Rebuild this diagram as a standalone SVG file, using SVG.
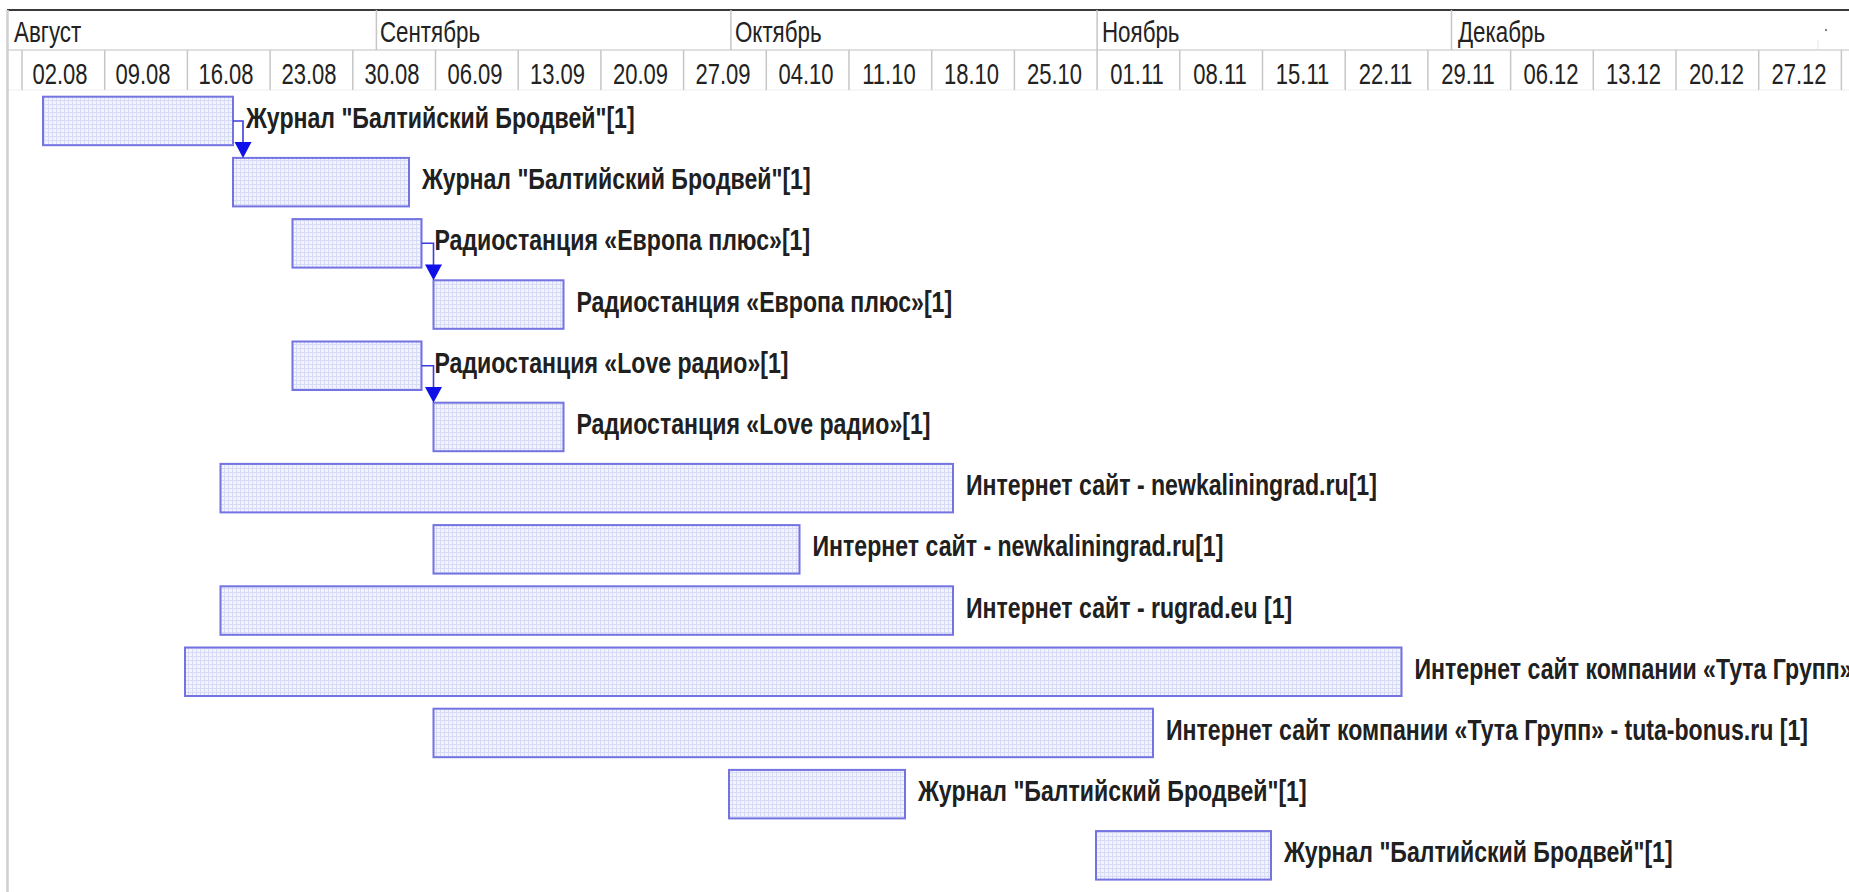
<svg xmlns="http://www.w3.org/2000/svg" width="1849" height="892" viewBox="0 0 1849 892">
<style>
.hdr{font-family:"Liberation Sans",Arial,sans-serif;font-size:29px;fill:#222}
.dt{font-family:"Liberation Sans",Arial,sans-serif;font-size:29px;fill:#222;text-anchor:middle}
.lbl{font-family:"Liberation Sans",Arial,sans-serif;font-size:30px;font-weight:bold;fill:#202020}
.bar{fill:url(#grid);stroke:#7373e2;stroke-width:2}
.sep{stroke:#c6c6c6;stroke-width:1.5}
.con{fill:none;stroke:#3c3ce0;stroke-width:1.6}
.ah{fill:#1010e8}
</style>
<defs>
<pattern id="grid" width="4" height="4" patternUnits="userSpaceOnUse">
<rect width="4" height="4" fill="#f3f3fd"/>
<path d="M0 0.5H4M0.5 0V4" stroke="#d8dbf6" stroke-width="1"/>
</pattern>
</defs>
<rect width="1849" height="892" fill="#ffffff"/>
<g id="timescale">
<line x1="7" y1="10" x2="1849" y2="10" stroke="#3a3a3a" stroke-width="2"/>
<line x1="7" y1="50" x2="1849" y2="50" stroke="#d4d4d4" stroke-width="1.5"/>
<line x1="7" y1="90" x2="1849" y2="90" stroke="#eeeeee" stroke-width="1"/>
<line x1="7.5" y1="10" x2="7.5" y2="892" stroke="#cfcfcf" stroke-width="2.5"/>
<g class="sep">
<line x1="376.4" y1="10" x2="376.4" y2="50"/>
<line x1="730.9" y1="10" x2="730.9" y2="50"/>
<line x1="1097.1" y1="10" x2="1097.1" y2="50"/>
<line x1="1451.5" y1="10" x2="1451.5" y2="50"/>
<line x1="22" y1="50" x2="22" y2="90"/>
<line x1="104.7" y1="50" x2="104.7" y2="90"/>
<line x1="187.4" y1="50" x2="187.4" y2="90"/>
<line x1="270.1" y1="50" x2="270.1" y2="90"/>
<line x1="352.8" y1="50" x2="352.8" y2="90"/>
<line x1="435.5" y1="50" x2="435.5" y2="90"/>
<line x1="518.2" y1="50" x2="518.2" y2="90"/>
<line x1="600.9" y1="50" x2="600.9" y2="90"/>
<line x1="683.6" y1="50" x2="683.6" y2="90"/>
<line x1="766.3" y1="50" x2="766.3" y2="90"/>
<line x1="849" y1="50" x2="849" y2="90"/>
<line x1="931.7" y1="50" x2="931.7" y2="90"/>
<line x1="1014.4" y1="50" x2="1014.4" y2="90"/>
<line x1="1097.1" y1="50" x2="1097.1" y2="90"/>
<line x1="1179.8" y1="50" x2="1179.8" y2="90"/>
<line x1="1262.5" y1="50" x2="1262.5" y2="90"/>
<line x1="1345.2" y1="50" x2="1345.2" y2="90"/>
<line x1="1427.9" y1="50" x2="1427.9" y2="90"/>
<line x1="1510.6" y1="50" x2="1510.6" y2="90"/>
<line x1="1593.3" y1="50" x2="1593.3" y2="90"/>
<line x1="1676" y1="50" x2="1676" y2="90"/>
<line x1="1758.7" y1="50" x2="1758.7" y2="90"/>
<line x1="1841.4" y1="50" x2="1841.4" y2="90"/>
</g>
<line x1="1818" y1="40" x2="1818" y2="50" stroke="#e4e4e4" stroke-width="1"/>
<circle cx="1826" cy="30" r="1.2" fill="#888"/>
<text class="hdr" transform="translate(14,42) scale(0.77,1)">Август</text>
<text class="hdr" transform="translate(380,42) scale(0.77,1)">Сентябрь</text>
<text class="hdr" transform="translate(735,42) scale(0.77,1)">Октябрь</text>
<text class="hdr" transform="translate(1102,42) scale(0.77,1)">Ноябрь</text>
<text class="hdr" transform="translate(1458,42) scale(0.77,1)">Декабрь</text>
<text class="dt" transform="translate(60,84) scale(0.76,1)">02.08</text>
<text class="dt" transform="translate(143,84) scale(0.76,1)">09.08</text>
<text class="dt" transform="translate(226,84) scale(0.76,1)">16.08</text>
<text class="dt" transform="translate(309,84) scale(0.76,1)">23.08</text>
<text class="dt" transform="translate(392,84) scale(0.76,1)">30.08</text>
<text class="dt" transform="translate(475,84) scale(0.76,1)">06.09</text>
<text class="dt" transform="translate(557.5,84) scale(0.76,1)">13.09</text>
<text class="dt" transform="translate(640.5,84) scale(0.76,1)">20.09</text>
<text class="dt" transform="translate(723,84) scale(0.76,1)">27.09</text>
<text class="dt" transform="translate(806,84) scale(0.76,1)">04.10</text>
<text class="dt" transform="translate(889,84) scale(0.76,1)">11.10</text>
<text class="dt" transform="translate(971.5,84) scale(0.76,1)">18.10</text>
<text class="dt" transform="translate(1054.5,84) scale(0.76,1)">25.10</text>
<text class="dt" transform="translate(1137,84) scale(0.76,1)">01.11</text>
<text class="dt" transform="translate(1220,84) scale(0.76,1)">08.11</text>
<text class="dt" transform="translate(1302.5,84) scale(0.76,1)">15.11</text>
<text class="dt" transform="translate(1385.5,84) scale(0.76,1)">22.11</text>
<text class="dt" transform="translate(1468,84) scale(0.76,1)">29.11</text>
<text class="dt" transform="translate(1551,84) scale(0.76,1)">06.12</text>
<text class="dt" transform="translate(1633.5,84) scale(0.76,1)">13.12</text>
<text class="dt" transform="translate(1716.5,84) scale(0.76,1)">20.12</text>
<text class="dt" transform="translate(1799,84) scale(0.76,1)">27.12</text>
</g>
<g id="task1"><rect class="bar" x="43" y="96.7" width="190" height="48.5"/><text class="lbl" transform="translate(246,128) scale(0.77,1)">Журнал "Балтийский Бродвей"[1]</text></g>
<g id="task2"><rect class="bar" x="233" y="157.9" width="176" height="48.5"/><text class="lbl" transform="translate(422,189.1) scale(0.77,1)">Журнал "Балтийский Бродвей"[1]</text></g>
<g id="task3"><rect class="bar" x="292.5" y="219.1" width="129" height="48.5"/><text class="lbl" transform="translate(434.5,250.3) scale(0.77,1)">Радиостанция «Европа плюс»[1]</text></g>
<g id="task4"><rect class="bar" x="433.5" y="280.3" width="130" height="48.5"/><text class="lbl" transform="translate(576.5,311.5) scale(0.77,1)">Радиостанция «Европа плюс»[1]</text></g>
<g id="task5"><rect class="bar" x="292.5" y="341.5" width="129" height="48.5"/><text class="lbl" transform="translate(434.5,372.7) scale(0.77,1)">Радиостанция «Love радио»[1]</text></g>
<g id="task6"><rect class="bar" x="433.5" y="402.7" width="130" height="48.5"/><text class="lbl" transform="translate(576.5,433.9) scale(0.77,1)">Радиостанция «Love радио»[1]</text></g>
<g id="task7"><rect class="bar" x="220.5" y="463.9" width="732.5" height="48.5"/><text class="lbl" transform="translate(966,495.1) scale(0.77,1)">Интернет сайт - newkaliningrad.ru[1]</text></g>
<g id="task8"><rect class="bar" x="433.5" y="525.1" width="366" height="48.5"/><text class="lbl" transform="translate(812.5,556.3) scale(0.77,1)">Интернет сайт - newkaliningrad.ru[1]</text></g>
<g id="task9"><rect class="bar" x="220.5" y="586.3" width="732.5" height="48.5"/><text class="lbl" transform="translate(966,617.5) scale(0.77,1)">Интернет сайт - rugrad.eu [1]</text></g>
<g id="task10"><rect class="bar" x="185" y="647.5" width="1216.5" height="48.5"/><text class="lbl" transform="translate(1414.5,678.7) scale(0.77,1)">Интернет сайт компании «Тута Групп»</text></g>
<g id="task11"><rect class="bar" x="433.5" y="708.7" width="719.5" height="48.5"/><text class="lbl" transform="translate(1166,739.9) scale(0.77,1)">Интернет сайт компании «Тута Групп» - tuta-bonus.ru [1]</text></g>
<g id="task12"><rect class="bar" x="729" y="769.9" width="176" height="48.5"/><text class="lbl" transform="translate(918,801.1) scale(0.77,1)">Журнал "Балтийский Бродвей"[1]</text></g>
<g id="task13"><rect class="bar" x="1096" y="831.1" width="175" height="48.5"/><text class="lbl" transform="translate(1284,862.3) scale(0.77,1)">Журнал "Балтийский Бродвей"[1]</text></g>
<g id="connectors">
<path class="con" d="M233 121H243V143"/>
<polygon class="ah" points="234.5,142 251.5,142 243,157.9"/>
<path class="con" d="M421.5 243.3H433.5V265"/>
<polygon class="ah" points="425,264.5 442,264.5 433.5,280.3"/>
<path class="con" d="M421.5 365.7H433.5V387"/>
<polygon class="ah" points="425,386.9 442,386.9 433.5,402.7"/>
</g>
</svg>
